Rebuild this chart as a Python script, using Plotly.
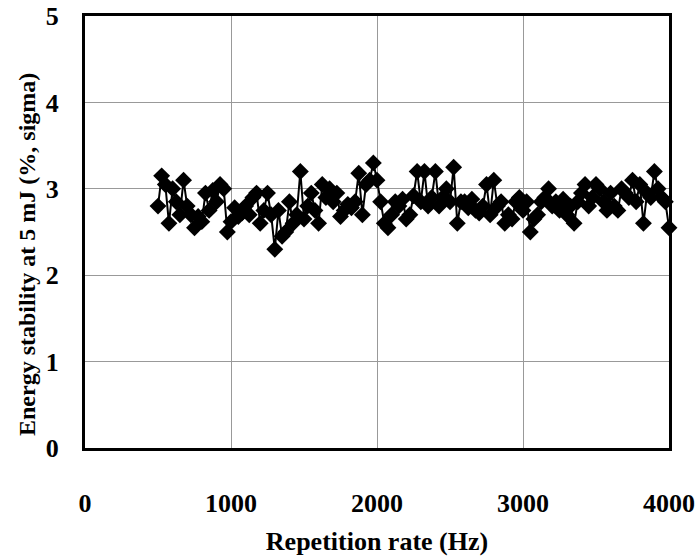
import plotly.graph_objects as go

rate_hz = [500 + 25 * i for i in range(141)]
stability = [
    2.80, 3.15, 3.05, 2.60, 3.00, 2.85, 2.70, 3.10, 2.80, 2.70,
    2.55, 2.68, 2.62, 2.95, 2.75, 2.98, 2.85, 3.05, 3.00, 2.50,
    2.62, 2.78, 2.68, 2.72, 2.80, 2.70, 2.90, 2.95, 2.60, 2.75,
    2.95, 2.70, 2.30, 2.75, 2.45, 2.50, 2.85, 2.60, 2.70, 3.20,
    2.65, 2.80, 2.95, 2.75, 2.60, 3.05, 2.90, 3.00, 2.85, 2.95,
    2.68, 2.75, 2.82, 2.78, 2.85, 3.18, 2.70, 3.05, 3.10, 3.30,
    3.10, 2.85, 2.60, 2.55, 2.70, 2.85, 2.80, 2.88, 2.65, 2.70,
    2.92, 3.20, 2.85, 3.20, 2.80, 2.90, 3.20, 2.80, 2.90, 3.00,
    2.85, 3.25, 2.60, 2.85, 2.85, 2.78, 2.88, 2.75, 2.72, 2.80,
    3.05, 2.70, 3.10, 2.80, 2.85, 2.60, 2.70, 2.65, 2.85, 2.90,
    2.75, 2.85, 2.50, 2.65, 2.70, 2.85, 2.90, 3.00, 2.80, 2.85,
    2.75, 2.88, 2.70, 2.80, 2.60, 2.85, 2.95, 3.05, 2.80, 2.90,
    3.05, 3.00, 2.85, 2.75, 2.95, 2.80, 2.75, 3.00, 2.95, 2.90,
    3.10, 2.85, 3.05, 2.60, 2.95, 2.90, 3.20, 3.00, 2.90, 2.85,
    2.55,
]
x_ticks = [0, 1000, 2000, 3000, 4000]
y_ticks = [0, 1, 2, 3, 4, 5]

font_family = "Liberation Serif, Times New Roman, serif"

fig = go.Figure()
fig.add_trace(go.Scatter(
    x=rate_hz, y=stability, mode="lines+markers",
    line=dict(color="black", width=2),
    marker=dict(symbol="diamond", size=13, color="black"),
    showlegend=False, cliponaxis=False,
))

fig.update_layout(
    width=698, height=556,
    margin=dict(l=85, r=29, t=16, b=108),
    paper_bgcolor="white", plot_bgcolor="white",
    font=dict(family=font_family, color="black"),
)
fig.update_xaxes(
    range=[0, 4000], tickvals=x_ticks, ticktext=[f"<b>{v}</b>" for v in x_ticks],
    showgrid=True, gridcolor="#999999", gridwidth=1,
    showline=True, linecolor="black", linewidth=3, mirror=True,
    ticks="", ticklabelstandoff=30, tickfont=dict(size=26),
    zeroline=False, automargin=False,
    title=dict(text="<b>Repetition rate (Hz)</b>", font=dict(size=26), standoff=20),
)
fig.update_yaxes(
    range=[0, 5], tickvals=y_ticks, ticktext=[f"<b>{v}</b>" for v in y_ticks],
    showgrid=True, gridcolor="#999999", gridwidth=1,
    showline=True, linecolor="black", linewidth=3, mirror=True,
    ticks="", ticklabelstandoff=18, tickfont=dict(size=26),
    zeroline=False, automargin=False,
)
fig.add_annotation(
    text="<b>Energy stability at 5 mJ (%, sigma)</b>",
    textangle=-90, font=dict(size=24),
    xref="paper", yref="paper", x=(27 - 85) / 584, y=(448 - 255) / 432,
    xanchor="center", yanchor="middle", showarrow=False,
)

fig.write_html(
    "out.html",
    config={"displayModeBar": False},
    post_script="document.body.style.margin='0';document.body.style.overflow='hidden';",
)
